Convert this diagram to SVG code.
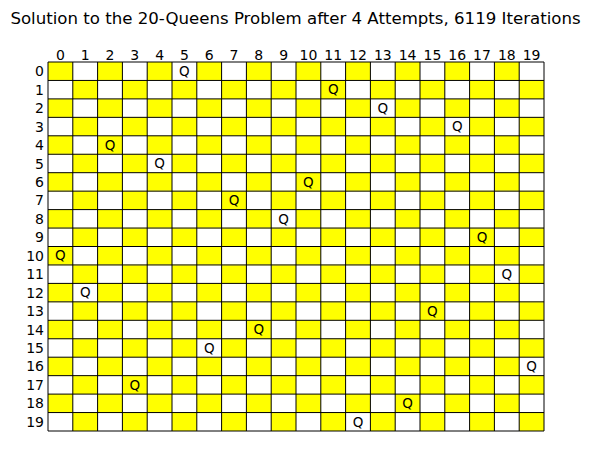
<svg xmlns="http://www.w3.org/2000/svg" width="591" height="465" viewBox="0 0 591 465">
<style>
text{font-family:"DejaVu Sans","Liberation Sans",sans-serif;fill:#000}
.t{font-size:16.6px}
.c{font-size:14px;text-anchor:middle}
.r{font-size:14px;text-anchor:end}
.q{font-size:13.5px;text-anchor:middle}
</style>
<defs>
<pattern id="cb" x="48" y="62" width="49.6" height="36.9" patternUnits="userSpaceOnUse">
<rect x="0" y="0" width="24.8" height="18.45" fill="#ffff00"/>
<rect x="24.8" y="18.45" width="24.8" height="18.45" fill="#ffff00"/>
</pattern>
</defs>
<rect width="591" height="465" fill="#fff"/>
<text class="t" x="295.5" y="24" text-anchor="middle">Solution to the 20-Queens Problem after 4 Attempts, 6119 Iterations</text>
<g id="board">
<rect x="48" y="62" width="496" height="369" fill="#fff"/>
<rect x="48" y="62" width="496" height="369" fill="url(#cb)"/>
<path fill="none" stroke="#000" stroke-width="1" d="M48 62V431M72.8 62V431M97.6 62V431M122.4 62V431M147.2 62V431M172 62V431M196.8 62V431M221.6 62V431M246.4 62V431M271.2 62V431M296 62V431M320.8 62V431M345.6 62V431M370.4 62V431M395.2 62V431M420 62V431M444.8 62V431M469.6 62V431M494.4 62V431M519.2 62V431M544 62V431M48 62H544M48 80.45H544M48 98.9H544M48 117.35H544M48 135.8H544M48 154.25H544M48 172.7H544M48 191.15H544M48 209.6H544M48 228.05H544M48 246.5H544M48 264.95H544M48 283.4H544M48 301.85H544M48 320.3H544M48 338.75H544M48 357.2H544M48 375.65H544M48 394.1H544M48 412.55H544M48 431H544"/>
</g>
<g id="col-labels">
<text class="c" x="60.4" y="59.5">0</text>
<text class="c" x="85.2" y="59.5">1</text>
<text class="c" x="110" y="59.5">2</text>
<text class="c" x="134.8" y="59.5">3</text>
<text class="c" x="159.6" y="59.5">4</text>
<text class="c" x="184.4" y="59.5">5</text>
<text class="c" x="209.2" y="59.5">6</text>
<text class="c" x="234" y="59.5">7</text>
<text class="c" x="258.8" y="59.5">8</text>
<text class="c" x="283.6" y="59.5">9</text>
<text class="c" x="308.4" y="59.5">10</text>
<text class="c" x="333.2" y="59.5">11</text>
<text class="c" x="358" y="59.5">12</text>
<text class="c" x="382.8" y="59.5">13</text>
<text class="c" x="407.6" y="59.5">14</text>
<text class="c" x="432.4" y="59.5">15</text>
<text class="c" x="457.2" y="59.5">16</text>
<text class="c" x="482" y="59.5">17</text>
<text class="c" x="506.8" y="59.5">18</text>
<text class="c" x="531.6" y="59.5">19</text>
</g>
<g id="row-labels">
<text class="r" x="44" y="76.2">0</text>
<text class="r" x="44" y="94.7">1</text>
<text class="r" x="44" y="113.1">2</text>
<text class="r" x="44" y="131.6">3</text>
<text class="r" x="44" y="150">4</text>
<text class="r" x="44" y="168.5">5</text>
<text class="r" x="44" y="186.9">6</text>
<text class="r" x="44" y="205.4">7</text>
<text class="r" x="44" y="223.8">8</text>
<text class="r" x="44" y="242.3">9</text>
<text class="r" x="44" y="260.7">10</text>
<text class="r" x="44" y="279.2">11</text>
<text class="r" x="44" y="297.6">12</text>
<text class="r" x="44" y="316.1">13</text>
<text class="r" x="44" y="334.5">14</text>
<text class="r" x="44" y="353">15</text>
<text class="r" x="44" y="371.4">16</text>
<text class="r" x="44" y="389.9">17</text>
<text class="r" x="44" y="408.3">18</text>
<text class="r" x="44" y="426.8">19</text>
</g>
<g id="queens">
<text class="q" x="184.4" y="75.9">Q</text>
<text class="q" x="333.2" y="94.4">Q</text>
<text class="q" x="382.8" y="112.8">Q</text>
<text class="q" x="457.2" y="131.3">Q</text>
<text class="q" x="110" y="149.7">Q</text>
<text class="q" x="159.6" y="168.2">Q</text>
<text class="q" x="308.4" y="186.6">Q</text>
<text class="q" x="234" y="205.1">Q</text>
<text class="q" x="283.6" y="223.5">Q</text>
<text class="q" x="482" y="242">Q</text>
<text class="q" x="60.4" y="260.4">Q</text>
<text class="q" x="506.8" y="278.9">Q</text>
<text class="q" x="85.2" y="297.3">Q</text>
<text class="q" x="432.4" y="315.8">Q</text>
<text class="q" x="258.8" y="334.2">Q</text>
<text class="q" x="209.2" y="352.7">Q</text>
<text class="q" x="531.6" y="371.1">Q</text>
<text class="q" x="134.8" y="389.6">Q</text>
<text class="q" x="407.6" y="408">Q</text>
<text class="q" x="358" y="426.5">Q</text>
</g>
</svg>
